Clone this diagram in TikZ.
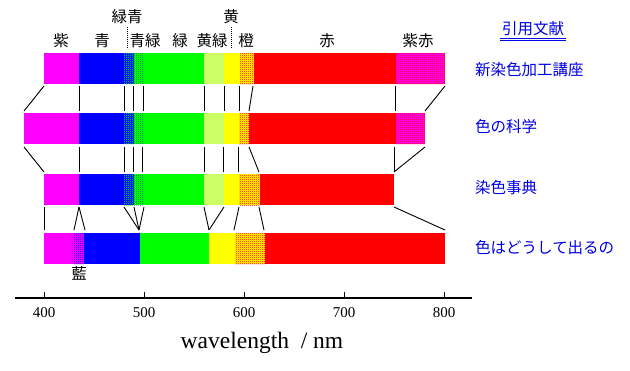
\documentclass[tikz,border=0pt]{standalone}
\usepackage{fontspec}
\setmainfont{Liberation Serif}
\newfontfamily\jp{Noto Sans CJK JP}
\usetikzlibrary{patterns.meta}
\definecolor{cmag}{RGB}{255,0,255}
\definecolor{cblue}{RGB}{0,0,255}
\definecolor{cgreen}{RGB}{0,255,0}
\definecolor{cyg}{RGB}{204,255,102}
\definecolor{cyel}{RGB}{255,255,0}
\definecolor{cred}{RGB}{255,0,0}
\definecolor{ctext}{RGB}{0,0,230}
\tikzdeclarepattern{
  name=chk, type=uncolored,
  bounding box={(0pt,0pt) and (2pt,2pt)},
  tile size={(2pt,2pt)},
  code={\pgfpathrectangle{\pgfpointorigin}{\pgfpoint{1pt}{1pt}}
        \pgfpathrectangle{\pgfpoint{1pt}{1pt}}{\pgfpoint{1pt}{1pt}}
        \pgfusepath{fill}}
}
\tikzdeclarepattern{
  name=spdot, type=uncolored,
  bounding box={(0pt,0pt) and (2pt,2pt)},
  tile size={(2pt,2pt)},
  code={\pgfpathrectangle{\pgfpointorigin}{\pgfpoint{1pt}{1pt}}
        \pgfusepath{fill}}
}
\newcommand\bseg[4]{\fill[#4] (#2,#1) rectangle (#3,#1+31);}
\newcommand\pseg[6]{\fill[#4] (#2,#1) rectangle (#3,#1+31);
  \fill[pattern=#5, pattern color=#6] (#2,#1) rectangle (#3,#1+31);}
\tikzset{
  lab/.style={font=\jp\fontsize{15.5}{16}\selectfont, inner sep=0pt},
  ref/.style={font=\jp\fontsize{15.5}{16}\selectfont, text=ctext, inner sep=0pt},
  conn/.style={line width=0.9pt, black},
  tick/.style={font=\fontsize{15}{16}\selectfont, inner sep=0pt},
}
\begin{document}
\begin{tikzpicture}[x=1pt,y=-1pt]
\useasboundingbox (0,0) rectangle (630,370);
% ---- bar 1
\bseg{53}{44}{79}{cmag}
\bseg{53}{79}{124}{cblue}
\pseg{53}{124}{134}{cblue}{chk}{cgreen}
\pseg{53}{134}{144}{cgreen}{spdot}{cblue}
\bseg{53}{144}{204}{cgreen}
\bseg{53}{204}{224}{cyg}
\bseg{53}{224}{240}{cyel}
\pseg{53}{240}{254}{cyel}{chk}{cred}
\bseg{53}{254}{396}{cred}
\pseg{53}{396}{445}{cmag}{chk}{cred}
% ---- bar 2
\bseg{113}{24}{79}{cmag}
\bseg{113}{79}{124}{cblue}
\pseg{113}{124}{134}{cblue}{chk}{cgreen}
\pseg{113}{134}{144}{cgreen}{spdot}{cblue}
\bseg{113}{144}{204}{cgreen}
\bseg{113}{204}{224}{cyg}
\bseg{113}{224}{239}{cyel}
\pseg{113}{239}{249}{cyel}{chk}{cred}
\bseg{113}{249}{396}{cred}
\pseg{113}{396}{425}{cmag}{chk}{cred}
% ---- bar 3
\bseg{174}{44}{79}{cmag}
\bseg{174}{79}{124}{cblue}
\pseg{174}{124}{134}{cblue}{chk}{cgreen}
\pseg{174}{134}{144}{cgreen}{spdot}{cblue}
\bseg{174}{144}{204}{cgreen}
\bseg{174}{204}{224}{cyg}
\bseg{174}{224}{239}{cyel}
\pseg{174}{239}{260}{cyel}{chk}{cred}
\bseg{174}{260}{394}{cred}
% ---- bar 4
\bseg{233}{44}{74}{cmag}
\pseg{233}{74}{84}{cmag}{chk}{cblue}
\bseg{233}{84}{140}{cblue}
\bseg{233}{140}{209}{cgreen}
\bseg{233}{209}{235}{cyel}
\pseg{233}{235}{265}{cyel}{chk}{cred}
\bseg{233}{265}{445}{cred}
% ---- connectors bar1 -> bar2
\draw[conn] (44,86) -- (24,111);
\foreach \x in {79,124,133,143,204,224,239} \draw[conn] (\x,86) -- (\x,111);
\draw[conn] (253,86) -- (249,111);
\draw[conn] (395,86) -- (395,111);
\draw[conn] (445,86) -- (425,111);
% ---- connectors bar2 -> bar3
\draw[conn] (24,147) -- (44,172);
\foreach \x in {79,124,133,142,204,223,238} \draw[conn] (\x,147) -- (\x,172);
\draw[conn] (249,147) -- (259,172);
\draw[conn] (394,147) -- (394,172);
\draw[conn] (425,147) -- (394,172);
% ---- connectors bar3 -> bar4
\draw[conn] (44,207) -- (44,230);
\draw[conn] (79,207) -- (74,230);
\draw[conn] (79,207) -- (85,230);
\draw[conn] (124,207) -- (139,230);
\draw[conn] (134,207) -- (139,230);
\draw[conn] (144,207) -- (139,230);
\draw[conn] (204,207) -- (209,230);
\draw[conn] (224,207) -- (209,230);
\draw[conn] (239,207) -- (234,230);
\draw[conn] (259,207) -- (264,230);
\draw[conn] (394,207) -- (445,230);
% ---- colour labels
\node[lab] (l1) at (61,41) {紫};
\node[lab] (l2) at (102,41) {青};
\node[lab] (l3) at (145,41) {青緑};
\node[lab] (l4) at (180,41) {緑};
\node[lab] (l5) at (212,41) {黄緑};
\node[lab] (l6) at (246,41) {橙};
\node[lab] (l7) at (327,41) {赤};
\node[lab] (l8) at (418,41) {紫赤};
\node[lab] (u1) at (127,17) {緑青};
\node[lab] (u2) at (231,17) {黄};
\draw[black, line width=0.9pt, dash pattern=on 1pt off 1pt] (127,27) -- (127,48);
\draw[black, line width=0.9pt, dash pattern=on 1pt off 1pt] (231,27) -- (231,48);
\node[lab] (ai) at (79,273) {藍};
% ---- references
\node[ref] (r0) at (533,29) {引用文献};
\draw[ctext, line width=0.8pt] (500,38) -- (566,38);
\draw[ctext, line width=0.8pt] (500,40.5) -- (566,40.5);
\node[ref, anchor=west] (r1) at (475,70) {新染色加工講座};
\node[ref, anchor=west] (r2) at (475,127) {色の科学};
\node[ref, anchor=west] (r3) at (475,188) {染色事典};
\node[ref, anchor=west] (r4) at (475,248) {色はどうして出るの};
% ---- axis
\draw[line width=2pt] (15,298) -- (472,298);
\foreach \x/\t in {44/400,144/500,244/600,344/700,444/800}{
  \draw[line width=1pt] (\x,298) -- (\x,292);
  \node[tick] at (\x,313) {\t};
}
\node[font=\fontsize{23.5}{25}\selectfont, inner sep=0pt] (wl) at (262,343) {wavelength~~/ nm};
\end{tikzpicture}
\end{document}
